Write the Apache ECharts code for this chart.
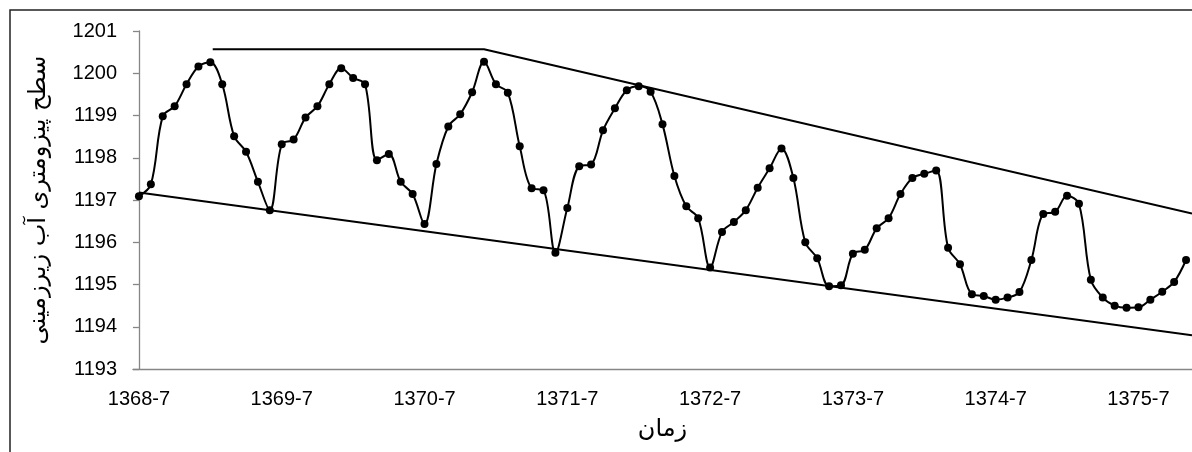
<!DOCTYPE html>
<html>
<head>
<meta charset="utf-8">
<title>سطح پیزومتری آب زیرزمینی</title>
<script src="https://cdn.jsdelivr.net/npm/echarts@6/dist/echarts.min.js"></script>
<style>
  html, body { margin: 0; padding: 0; background: #fff; }
  #chart { width: 1192px; height: 452px; }
</style>
</head>
<body>
<div id="chart"></div>
<script>
// ماهانه از 1368-7
const startYear = 1368
const startMonth = 7
const levels = [
  1197.09, 1197.37, 1198.98, 1199.22, 1199.74, 1200.16, 1200.26, 1199.74, 1198.51, 1198.14, 1197.43, 1196.76,
  1198.32, 1198.43, 1198.95, 1199.22, 1199.74, 1200.12, 1199.89, 1199.74, 1197.94, 1198.09, 1197.43, 1197.14,
  1196.43, 1197.85, 1198.74, 1199.03, 1199.55, 1200.27, 1199.74, 1199.54, 1198.27, 1197.28, 1197.23, 1195.75,
  1196.81, 1197.80, 1197.84, 1198.65, 1199.17, 1199.60, 1199.69, 1199.56, 1198.79, 1197.57, 1196.85, 1196.57,
  1195.40, 1196.24, 1196.48, 1196.76, 1197.29, 1197.75, 1198.22, 1197.52, 1196.00, 1195.62, 1194.96, 1194.98,
  1195.73, 1195.82, 1196.33, 1196.57, 1197.14, 1197.52, 1197.62, 1197.70, 1195.87, 1195.48, 1194.77, 1194.73,
  1194.64, 1194.69, 1194.82, 1195.58, 1196.67, 1196.72, 1197.10, 1196.91, 1195.11, 1194.69, 1194.50, 1194.45,
  1194.46, 1194.64, 1194.83, 1195.06, 1195.58
]
// خطوط روند: [اندیس ماه, تراز]
const upperTrend = [[6.2, 1200.57], [29, 1200.57], [88.5, 1196.68]]
const lowerTrend = [[0, 1197.18], [88.5, 1193.80]]
const yTicks = { min: 1193, max: 1201, step: 1 }

const months = levels.map((v, i) => {
  const m = startMonth - 1 + i
  return (startYear + Math.floor(m / 12)) + '-' + (m % 12 + 1)
})

const axisGray = '#868686'
const font = 'Liberation Sans, Arial, sans-serif'

const chart = echarts.init(document.getElementById('chart'))
chart.setOption({
  animation: false,
  backgroundColor: '#fff',
  graphic: [{
    type: 'rect',
    shape: { x: 10, y: 10, width: 1300, height: 600 },
    style: { fill: 'none', stroke: '#222', lineWidth: 1.5 },
    silent: true
  }],
  grid: { left: 133, top: 31, width: 1060, height: 338 },
  xAxis: [
    {
      type: 'category',
      data: months,
      boundaryGap: true,
      name: 'زمان',
      nameLocation: 'middle',
      nameGap: 49,
      nameTextStyle: { fontFamily: 'DejaVu Sans', fontSize: 24, color: '#000' },
      axisLine: { lineStyle: { color: axisGray, width: 1.3 } },
      axisTick: { interval: 5, length: 6, lineStyle: { color: axisGray, width: 1.3 } },
      axisLabel: { interval: 11, margin: 20, fontFamily: font, fontSize: 20, color: '#000' },
      splitLine: { show: false }
    },
    {
      type: 'value',
      min: -0.5,
      max: levels.length - 0.5,
      show: false
    }
  ],
  yAxis: {
    type: 'value',
    min: yTicks.min,
    max: yTicks.max,
    interval: yTicks.step,
    name: 'سطح پیزومتری آب زیرزمینی',
    nameLocation: 'middle',
    nameRotate: 90,
    nameGap: 82,
    nameTextStyle: { fontFamily: 'DejaVu Sans', fontSize: 24, color: '#000' },
    axisLine: { show: true, lineStyle: { color: axisGray, width: 1.3 } },
    axisTick: { show: true, length: 6, lineStyle: { color: axisGray, width: 1.3 } },
    axisLabel: {
      margin: 16, fontFamily: font, fontSize: 20, color: '#000',
      formatter: v => String(v)
    },
    splitLine: { show: false }
  },
  series: [
    {
      type: 'line',
      data: levels,
      smooth: 0.35,
      symbol: 'circle',
      symbolSize: 8,
      showAllSymbol: true,
      lineStyle: { color: '#000', width: 2 },
      itemStyle: { color: '#000' },
      z: 3
    },
    {
      type: 'line',
      xAxisIndex: 1,
      data: upperTrend,
      symbol: 'none',
      lineStyle: { color: '#000', width: 2 },
      z: 2
    },
    {
      type: 'line',
      xAxisIndex: 1,
      data: lowerTrend,
      symbol: 'none',
      lineStyle: { color: '#000', width: 2 },
      z: 2
    }
  ]
})
</script>
</body>
</html>
